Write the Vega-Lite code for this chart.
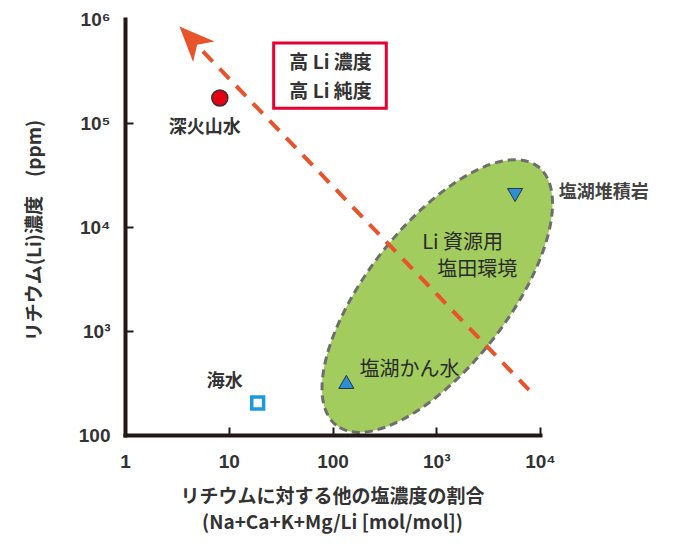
{
  "$schema": "https://vega.github.io/schema/vega-lite/v6.json",
  "width": 415,
  "height": 416,
  "autosize": {"type": "none"},
  "padding": {"left": 125, "top": 19, "right": 135, "bottom": 109},
  "background": "white",
  "config": {"view": {"stroke": null}, "font": "Noto Sans CJK JP"},
  "datasets": {
    "ellipse": [{"x": 1023, "y": 2170}],
    "arrowline": [{"x": 7830, "y": 271, "x2": 4.92, "y2": 562000}],
    "arrowhead": [{"x": 4.39, "y": 640000}],
    "box": [{"x": 27.1, "x2": 330, "y": 587000, "y2": 139000}],
    "boxtext": [
      {"x": 95.7, "y": 378000, "label": "高 Li 濃度"},
      {"x": 95.7, "y": 199000, "label": "高 Li 純度"}
    ],
    "circle": [{"x": 8.2, "y": 174000, "label": "深火山水"}],
    "down": [{"x": 5750, "y": 20300, "label": "塩湖堆積岩"}],
    "up": [{"x": 136, "y": 324, "label": "塩湖かん水"}],
    "square": [{"x": 19, "y": 203, "label": "海水"}],
    "boldlabels": [
      {"x": 5.88, "y": 89600, "label": "深火山水"},
      {"x": 9.15, "y": 324, "label": "海水"}
    ],
    "rightlabel": [{"x": 15200, "y": 21200, "label": "塩湖堆積岩"}],
    "plainlabels": [
      {"x": 733, "y": 7020, "label": "Li 資源用"},
      {"x": 1023, "y": 3860, "label": "塩田環境"},
      {"x": 182, "y": 422, "label": "塩湖かん水"}
    ]
  },
  "resolve": {"axis": {"x": "independent", "y": "independent"}},
  "encoding": {
    "x": {
      "field": "x",
      "type": "quantitative",
      "scale": {"type": "log", "domain": [1, 10000], "nice": false},
      "axis": null
    },
    "y": {
      "field": "y",
      "type": "quantitative",
      "scale": {"type": "log", "domain": [100, 1000000], "nice": false},
      "axis": null
    }
  },
  "layer": [
    {
      "data": {"name": "ellipse"},
      "mark": {
        "type": "point",
        "shape": "M -1 0 A 1 0.43 0 1 1 1 0 A 1 0.43 0 1 1 -1 0 Z",
        "size": 107584,
        "angle": 308,
        "filled": true,
        "fill": "#a2cd5e",
        "stroke": "#6e6e6e",
        "strokeWidth": 3,
        "strokeDash": [8, 5],
        "opacity": 1,
        "fillOpacity": 1
      },
      "encoding": {
        "x": {
          "field": "x",
          "type": "quantitative",
          "scale": {"type": "log", "domain": [1, 10000], "nice": false},
          "axis": {
            "orient": "bottom",
            "values": [1, 10, 100, 1000, 10000],
            "labelExpr": "datum.value < 500 ? format(datum.value, 'd') : (datum.value < 5000 ? '10³' : '10⁴')",
            "title": ["リチウムに対する他の塩濃度の割合", "(Na+Ca+K+Mg/Li [mol/mol])"],
            "titleFontSize": 19,
            "titleFontWeight": "bold",
            "titleColor": "#333333",
            "titleLineHeight": 26,
            "titleBaseline": "top",
            "titleY": 52,
            "titleX": 207,
            "domainWidth": 4,
            "domainColor": "#231815",
            "domainCap": "square",
            "ticks": false,
            "grid": false,
            "labelFont": "Liberation Sans",
            "labelFontSize": 19,
            "labelFontWeight": "bold",
            "labelColor": "#333333",
            "labelPadding": 17,
            "labelFlush": false,
            "labelOverlap": false,
            "zindex": 1
          }
        },
        "y": {
          "field": "y",
          "type": "quantitative",
          "scale": {"type": "log", "domain": [100, 1000000], "nice": false},
          "axis": {
            "orient": "left",
            "values": [100, 1000, 10000, 100000, 1000000],
            "labelExpr": "datum.value < 500 ? '100' : datum.value < 5000 ? '10³' : datum.value < 50000 ? '10⁴' : datum.value < 500000 ? '10⁵' : '10⁶'",
            "title": "リチウム(Li)濃度　(ppm)",
            "titleFontSize": 19,
            "titleFontWeight": "bold",
            "titleColor": "#333333",
            "titleAngle": -90,
            "titleX": -91,
            "titleY": 211,
            "titleAlign": "center",
            "titleBaseline": "middle",
            "domainWidth": 4,
            "domainColor": "#231815",
            "domainCap": "square",
            "ticks": false,
            "grid": false,
            "labelFont": "Liberation Sans",
            "labelFontSize": 19,
            "labelFontWeight": "bold",
            "labelColor": "#333333",
            "labelPadding": 15,
            "labelFlush": false,
            "labelOverlap": false,
            "zindex": 1
          }
        }
      }
    },
    {
      "data": {"name": "arrowline"},
      "mark": {"type": "rule", "color": "#e8532b", "strokeWidth": 4, "strokeDash": [14, 10], "strokeCap": "butt"},
      "encoding": {
        "x2": {"field": "x2"},
        "y2": {"field": "y2"},
        "x": {
          "field": "x",
          "type": "quantitative",
          "scale": {"type": "log", "domain": [1, 10000], "nice": false},
          "axis": {
            "orient": "bottom",
            "offset": -8,
            "values": [10, 100, 1000, 10000],
            "domain": false,
            "labels": false,
            "title": null,
            "grid": false,
            "ticks": true,
            "tickSize": 8,
            "tickWidth": 2,
            "tickColor": "#231815",
            "zindex": 1
          }
        },
        "y": {
          "field": "y",
          "type": "quantitative",
          "scale": {"type": "log", "domain": [100, 1000000], "nice": false},
          "axis": {
            "orient": "left",
            "offset": -8,
            "values": [1000, 10000, 100000],
            "domain": false,
            "labels": false,
            "title": null,
            "grid": false,
            "ticks": true,
            "tickSize": 8,
            "tickWidth": 2,
            "tickColor": "#231815",
            "zindex": 1
          }
        }
      }
    },
    {
      "data": {"name": "arrowhead"},
      "mark": {
        "type": "point",
        "shape": "M 1 0 L -1 -0.85 L -0.45 0 L -1 0.85 Z",
        "size": 1225,
        "angle": 226,
        "filled": true,
        "fill": "#e8532b",
        "opacity": 1,
        "strokeWidth": 0
      }
    },
    {
      "data": {"name": "box"},
      "mark": {"type": "rect", "fill": "white", "stroke": "#e60033", "strokeWidth": 3},
      "encoding": {"x2": {"field": "x2"}, "y2": {"field": "y2"}}
    },
    {
      "data": {"name": "boxtext"},
      "mark": {"type": "text", "fontSize": 19, "fontWeight": "bold", "color": "#333333", "align": "center", "baseline": "middle"},
      "encoding": {"text": {"field": "label"}}
    },
    {
      "data": {"name": "circle"},
      "mark": {"type": "point", "shape": "circle", "size": 256, "filled": true, "fill": "#e60012", "stroke": "#333333", "strokeWidth": 1.5, "opacity": 1}
    },
    {
      "data": {"name": "down"},
      "mark": {"type": "point", "shape": "triangle-down", "size": 230, "filled": true, "fill": "#2b8fd8", "stroke": "#333333", "strokeWidth": 1, "opacity": 1}
    },
    {
      "data": {"name": "up"},
      "mark": {"type": "point", "shape": "triangle-up", "size": 230, "filled": true, "fill": "#2b8fd8", "stroke": "#333333", "strokeWidth": 1, "opacity": 1}
    },
    {
      "data": {"name": "square"},
      "mark": {"type": "point", "shape": "square", "size": 140, "filled": true, "fill": "white", "stroke": "#1a9be0", "strokeWidth": 3.5, "opacity": 1}
    },
    {
      "data": {"name": "boldlabels"},
      "mark": {"type": "text", "fontSize": 18, "fontWeight": "bold", "color": "#333333", "align": "center", "baseline": "middle"},
      "encoding": {"text": {"field": "label"}}
    },
    {
      "data": {"name": "rightlabel"},
      "mark": {"type": "text", "fontSize": 18, "fontWeight": "bold", "color": "#444444", "align": "left", "baseline": "middle"},
      "encoding": {"text": {"field": "label"}}
    },
    {
      "data": {"name": "plainlabels"},
      "mark": {"type": "text", "fontSize": 20, "color": "#2a2a2a", "align": "left", "baseline": "middle"},
      "encoding": {"text": {"field": "label"}}
    }
  ]
}
